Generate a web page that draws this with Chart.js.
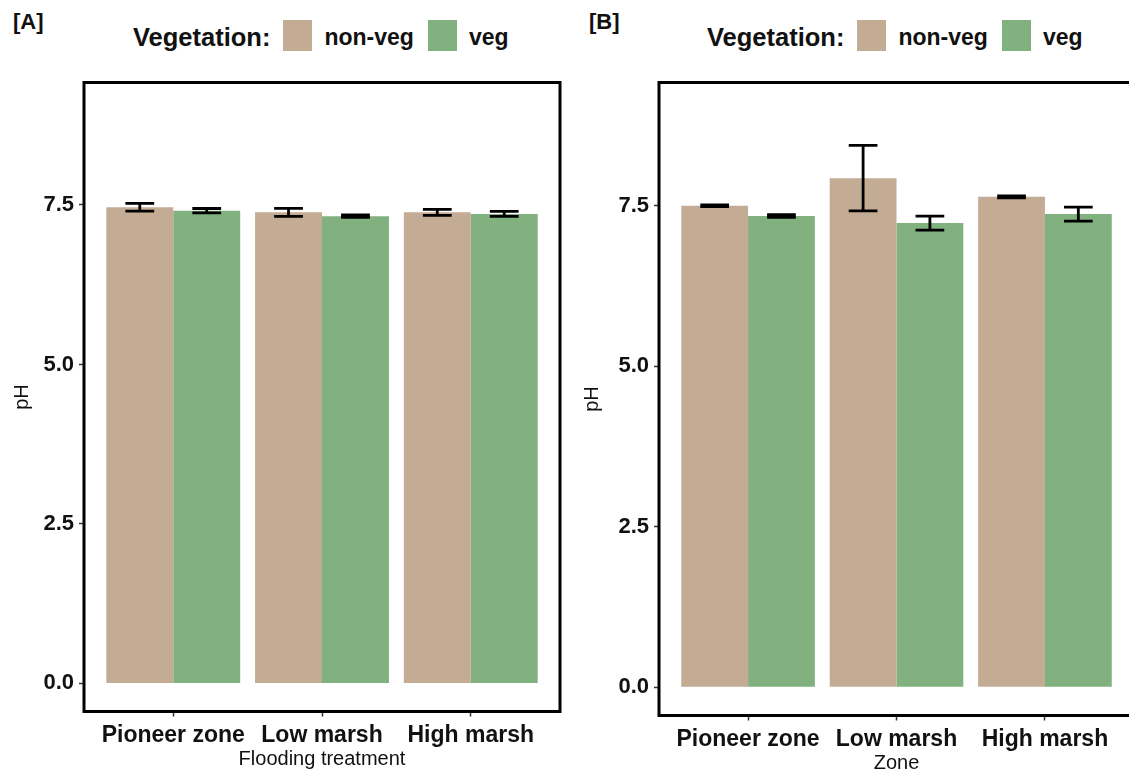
<!DOCTYPE html>
<html>
<head>
<meta charset="utf-8">
<script src="https://cdn.jsdelivr.net/npm/chart.js@4.4.1/dist/chart.umd.min.js"></script>
<style>
html,body{margin:0;padding:0;width:1129px;height:775px;overflow:hidden;background:#fff;font-family:"Liberation Sans",Arial,sans-serif;}
canvas{position:absolute;top:0;}
.tag{position:absolute;top:11px;font-weight:bold;font-size:22px;line-height:1;color:#111;}
.legend{position:absolute;top:20px;height:31px;display:flex;align-items:center;font-weight:bold;color:#111;white-space:nowrap;}
.legend .ttl{font-size:25.5px;margin-right:13px;position:relative;top:2px;}
.legend .box{display:inline-block;width:29px;height:31px;}
.legend .lab{font-size:23px;margin-left:12px;margin-right:14px;position:relative;top:2px;}
</style>
</head>
<body>
<div class="tag" style="left:13px;">[A]</div>
<div class="tag" style="left:589px;">[B]</div>
<div class="legend" id="legA" style="left:133px;"></div>
<div class="legend" id="legB" style="left:707px;"></div>
<canvas id="chartA" width="566" height="775" style="left:0px;"></canvas>
<canvas id="chartB" width="570" height="775" style="left:570px;"></canvas>
<script>
// ---- data ----
const categories = ['Pioneer zone', 'Low marsh', 'High marsh'];
const seriesNames = ['non-veg', 'veg'];
const seriesColors = ['#c4ab93', '#80b17f'];
const legendTitle = 'Vegetation:';
const yTicks = [0, 2.5, 5, 7.5];

const aNonVeg   = [7.465, 7.385, 7.385];
const aNonVegSE = [0.061, 0.063, 0.047];
const aVeg      = [7.41, 7.325, 7.36];
const aVegSE    = [0.035, 0.02, 0.04];

const bNonVeg   = [7.50, 7.93, 7.64];
const bNonVegSE = [0.015, 0.51, 0.015];
const bVeg      = [7.34, 7.23, 7.37];
const bVegSE    = [0.02, 0.11, 0.11];

const FONT = '"Liberation Sans", Arial, sans-serif';
Chart.defaults.font.family = FONT;

function buildLegend(id) {
  const el = document.getElementById(id);
  const t = document.createElement('span');
  t.className = 'ttl'; t.textContent = legendTitle; el.appendChild(t);
  seriesNames.forEach((n, i) => {
    const b = document.createElement('span');
    b.className = 'box'; b.style.background = seriesColors[i]; el.appendChild(b);
    const l = document.createElement('span');
    l.className = 'lab'; l.textContent = n; el.appendChild(l);
  });
}
buildLegend('legA');
buildLegend('legB');

const errorBars = {
  id: 'errorBars',
  afterDatasetsDraw(chart) {
    const ctx = chart.ctx, ys = chart.scales.y;
    ctx.save();
    ctx.strokeStyle = '#000';
    ctx.lineWidth = 2.8;
    chart.data.datasets.forEach((ds, i) => {
      const meta = chart.getDatasetMeta(i);
      meta.data.forEach((bar, j) => {
        const v = ds.data[j].y, e = ds.errors[j];
        const yt = ys.getPixelForValue(v + e), yb = ys.getPixelForValue(v - e);
        const hw = bar.width * 0.215;
        ctx.beginPath();
        ctx.moveTo(bar.x, yt); ctx.lineTo(bar.x, yb);
        ctx.moveTo(bar.x - hw, yt); ctx.lineTo(bar.x + hw, yt);
        ctx.moveTo(bar.x - hw, yb); ctx.lineTo(bar.x + hw, yb);
        ctx.stroke();
      });
    });
    ctx.restore();
  }
};

const panelBorder = {
  id: 'panelBorder',
  afterDraw(chart) {
    const a = chart.chartArea, ctx = chart.ctx;
    ctx.save();
    ctx.strokeStyle = '#000';
    ctx.lineWidth = 3;
    ctx.strokeRect(a.left, a.top, a.right - a.left, a.bottom - a.top);
    ctx.restore();
  }
};

function makeChart(id, nonveg, nonvegSE, veg, vegSE, xTitle, yWidth, xHeight, titleBottomPad) {
  const toPts = arr => arr.map((v, i) => ({ x: i + 1, y: v }));
  return new Chart(document.getElementById(id), {
    type: 'bar',
    data: {
      datasets: [
        { label: seriesNames[0], data: toPts(nonveg), errors: nonvegSE, backgroundColor: seriesColors[0], borderWidth: 0, categoryPercentage: 0.9, barPercentage: 1.0 },
        { label: seriesNames[1], data: toPts(veg), errors: vegSE, backgroundColor: seriesColors[1], borderWidth: 0, categoryPercentage: 0.9, barPercentage: 1.0 }
      ]
    },
    options: {
      responsive: false,
      animation: false,
      devicePixelRatio: 1,
      layout: { padding: { top: 82.5, right: 6, left: 0, bottom: 0 } },
      plugins: { legend: { display: false }, tooltip: { enabled: false } },
      scales: {
        x: {
          type: 'linear', min: 0.4, max: 3.6, offset: false,
          grid: { display: true, drawOnChartArea: false, drawTicks: true, tickLength: 5, tickColor: '#333', tickWidth: 1.5, offset: false },
          border: { display: false },
          afterBuildTicks: s => { s.ticks = categories.map((c, i) => ({ value: i + 1 })); },
          ticks: { callback: v => categories[Math.round(v) - 1], font: { size: 23, weight: 'bold' }, color: '#111', padding: 5, maxRotation: 0, autoSkip: false },
          title: { display: true, text: xTitle, font: { size: 20 }, color: '#111', padding: { top: 0, bottom: titleBottomPad } },
          afterFit: s => { s.height = xHeight; }
        },
        y: {
          min: -0.44, max: 9.42,
          grid: { display: true, drawOnChartArea: false, drawTicks: true, tickLength: 5, tickColor: '#333', tickWidth: 1.5 },
          border: { display: false },
          afterBuildTicks: s => { s.ticks = yTicks.map(v => ({ value: v })); },
          ticks: { callback: v => Number(v).toFixed(1), font: { size: 22, weight: 'bold' }, color: '#111', padding: 5 },
          title: { display: true, text: 'pH', font: { size: 20 }, color: '#111', padding: { top: 10, bottom: 0 } },
          afterFit: s => { s.width = yWidth; }
        }
      }
    },
    plugins: [errorBars, panelBorder]
  });
}

makeChart('chartA', aNonVeg, aNonVegSE, aVeg, aVegSE, 'Flooding treatment', 84, 63.5, 4);
makeChart('chartB', bNonVeg, bNonVegSE, bVeg, bVegSE, 'Zone', 89, 59.5, 0);
</script>
</body>
</html>
